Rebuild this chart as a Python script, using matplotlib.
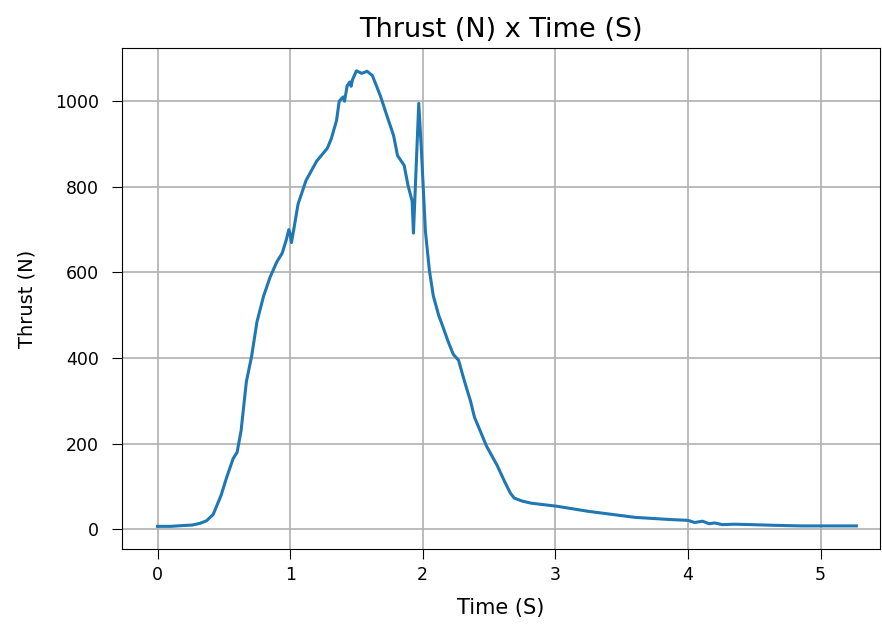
import matplotlib.pyplot as plt

# Thrust curve values
time_s = [0.00, 0.10, 0.20, 0.26, 0.32, 0.37, 0.42, 0.48, 0.52, 0.57, 0.60, 0.63,
          0.67, 0.71, 0.75, 0.80, 0.85, 0.90, 0.94, 0.97, 0.99, 1.00, 1.01, 1.03,
          1.06, 1.12, 1.20, 1.28, 1.31, 1.35, 1.37, 1.40, 1.41, 1.43, 1.45, 1.46,
          1.47, 1.50, 1.54, 1.58, 1.62, 1.68, 1.73, 1.78, 1.81, 1.86, 1.89, 1.92,
          1.93, 1.97, 1.99, 2.02, 2.05, 2.08, 2.12, 2.15, 2.19, 2.23, 2.27, 2.30,
          2.33, 2.36, 2.39, 2.44, 2.48, 2.56, 2.62, 2.66, 2.69, 2.75, 2.82, 3.01,
          3.25, 3.60, 3.86, 4.00, 4.05, 4.11, 4.16, 4.20, 4.26, 4.35, 4.48, 4.70,
          4.86, 5.10, 5.27]
thrust_n = [7, 7, 9, 10, 14, 20, 35, 80, 120, 165, 180, 230,
            345, 405, 485, 545, 590, 625, 645, 675, 700, 690, 670, 705,
            760, 815, 860, 890, 912, 955, 1000, 1010, 1000, 1036, 1045, 1035,
            1050, 1071, 1065, 1070, 1060, 1013, 966, 920, 873, 850, 802, 767,
            692, 995, 885, 697, 605, 545, 500, 475, 440, 409, 395, 362,
            330, 300, 262, 225, 195, 150, 110, 85, 73, 66, 61, 54,
            42, 28, 23, 21, 16, 19, 13, 15, 11, 12, 11, 9,
            8, 8, 8]

fig, ax = plt.subplots(figsize=(8.82, 6.24), dpi=100)
fig.subplots_adjust(left=0.138, right=0.998, bottom=0.12, top=0.923)

ax.plot(time_s, thrust_n, color="#1f77b4", linewidth=2.2)
ax.set_xlim(-0.27, 5.45)
ax.set_title("Thrust (N) x Time (S)", fontsize=19.5, y=1.0, pad=8)
ax.set_xlabel("Time (S)", fontsize=15, labelpad=10)
ax.set_ylabel("Thrust (N)", fontsize=14, labelpad=13)
ax.tick_params(labelsize=12.5, length=7)
ax.tick_params(axis="x", pad=5)
ax.tick_params(axis="y", pad=9.5)
ax.grid(True, color="#b0b0b0", linewidth=1.2)

fig.savefig("out.png")
